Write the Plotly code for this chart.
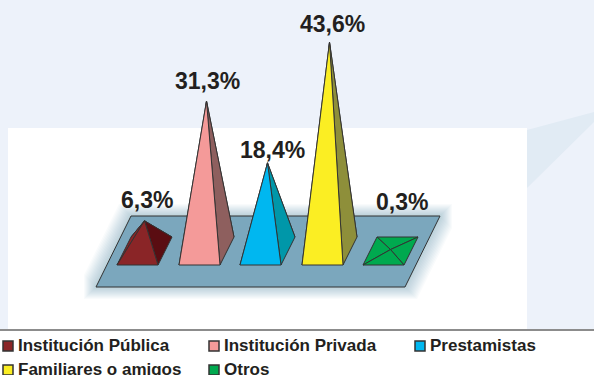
import plotly.graph_objects as go

categories = ["Institución Pública", "Institución Privada", "Prestamistas", "Familiares o amigos", "Otros"]
values = [6.3, 31.3, 18.4, 43.6, 0.3]
front_colors = ["#8a2527", "#f49a99", "#00b7f0", "#fbee23", "#00a94f"]
side_colors = ["#5a0d12", "#8e5f5e", "#0097a9", "#8e8f3a", "#00a94f"]

# geometry / style constants (pixel canvas)
base_left = [117, 179, 240, 302, 363]
BASE_Y, BACK_Y, CENTER_Y = 265, 237, 251
BASE_W, DEPTH_X = 41, 14
K = 4.79
label_pos = [(146.5, 199.5), (207, 81), (272, 150), (332, 23.5), (402, 202)]
legend_sq = [(8, 346), (214, 346), (420, 346), (8, 370), (214, 370)]
INK = "#333333"

fig = go.Figure()


def poly(xs, ys, fill, line=INK, width=1):
    fig.add_trace(go.Scatter(x=list(xs) + [xs[0]], y=list(ys) + [ys[0]], mode="lines", fill="toself",
                             fillcolor=fill, line=dict(color=line, width=width),
                             hoverinfo="skip", showlegend=False))


# platform with its soft shadow
plat_x, plat_y = [131, 440, 405, 96], [216, 216, 287, 287]
for d in range(12, 0, -1):
    poly([131 - d, 440 + d, 440 + d, 405 + d, 96 - d, 96 - d],
         [216 - d, 216 - d, 216 + d, 287 + d, 287 + d, 287 - d],
         "rgba(70,115,160,0.03)", "rgba(0,0,0,0)", 0)
poly(plat_x, plat_y, "#7ba7bd")

# pyramids
for i, v in enumerate(values):
    x0 = base_left[i]
    fl, fr = (x0, BASE_Y), (x0 + BASE_W, BASE_Y)
    bl, br = (x0 + DEPTH_X, BACK_Y), (x0 + BASE_W + DEPTH_X, BACK_Y)
    apex = (x0 + (BASE_W + DEPTH_X) / 2, CENTER_Y - K * v)
    for a, b, col in [(bl, br, front_colors[i]), (fl, bl, front_colors[i]),
                      (fr, br, side_colors[i]), (fl, fr, front_colors[i])]:
        poly([a[0], b[0], apex[0]], [a[1], b[1], apex[1]], col)
    fig.add_annotation(x=label_pos[i][0], y=label_pos[i][1], text=f"<b>{v:.1f}%</b>".replace(".", ","),
                       showarrow=False, font=dict(family="Liberation Sans", size=23, color="#231f20"))

# legend
for (sx, sy), name, col in zip(legend_sq, categories, front_colors):
    fig.add_trace(go.Scatter(x=[sx], y=[sy], mode="markers", hoverinfo="skip", showlegend=False,
                             marker=dict(symbol="square", size=10, color=col, line=dict(color=INK, width=1.5))))
    fig.add_annotation(x=sx + 8, y=sy - 1, text=f"<b>{name}</b>", showarrow=False, xanchor="left",
                       font=dict(family="Liberation Sans", size=17, color="#231f20"))

shapes = [
    dict(type="rect", x0=0, x1=594, y0=0, y1=330, fillcolor="#edf2fa", line_width=0, layer="below"),
    dict(type="path", path="M527,130 L594,112 L594,122 L527,188 Z", fillcolor="#e1ebf4", line_width=0, layer="below"),
    dict(type="rect", x0=8, x1=527, y0=128, y1=330, fillcolor="white", line_width=0, layer="below"),
    dict(type="line", x0=0, x1=594, y0=330, y1=330, line=dict(color="#8c8c8c", width=2), layer="below"),
]
fig.update_layout(width=594, height=375, margin=dict(l=0, r=0, t=0, b=0), paper_bgcolor="white",
                  plot_bgcolor="white", shapes=shapes, showlegend=False,
                  xaxis=dict(range=[0, 594], visible=False, fixedrange=True),
                  yaxis=dict(range=[375, 0], visible=False, fixedrange=True))
fig.write_html("out.html", post_script="document.body.style.margin='0';", config=dict(displayModeBar=False))
